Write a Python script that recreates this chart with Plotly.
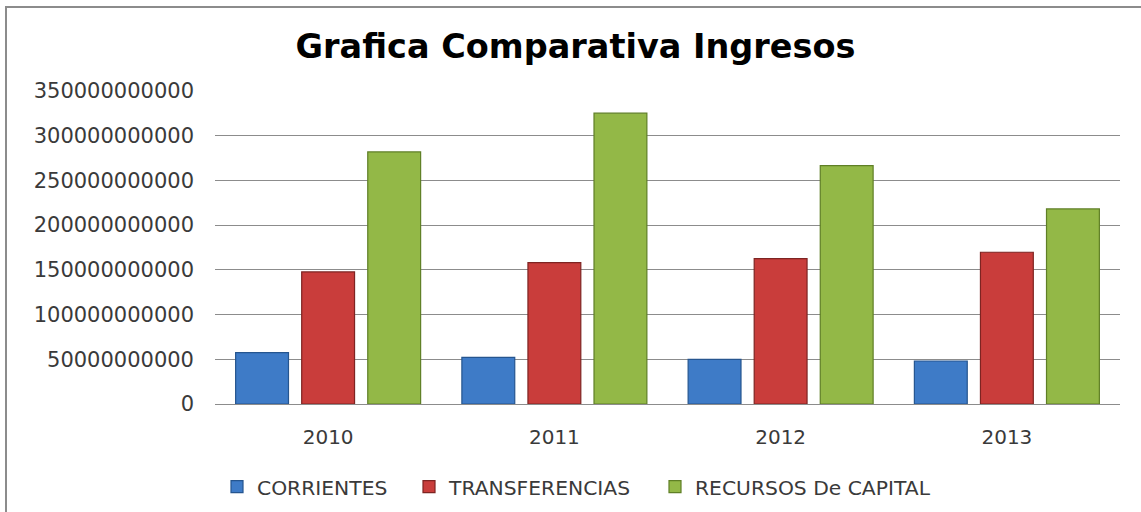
import plotly.graph_objects as go

years = ["2010", "2011", "2012", "2013"]
corrientes = [57.4e9, 52.2e9, 50.0e9, 48.1e9]
transferencias = [147.7e9, 158.0e9, 162.5e9, 169.7e9]
recursos_capital = [281.9e9, 325.2e9, 266.6e9, 218.1e9]
series_names = ["CORRIENTES", "TRANSFERENCIAS", "RECURSOS De CAPITAL"]
y_ticks = [0, 50e9, 100e9, 150e9, 200e9, 250e9, 300e9, 350e9]

fills = ["#3E7BC7", "#C93D3B", "#93B847"]
edges = ["#25558F", "#7E2422", "#5F7F26"]
legend_ids = ["legend", "legend2", "legend3"]
legend_sym_px = [237, 429, 675]   # symbol centres

PL, PR, PT, PB = 215, 1120, 91, 404
def px_x(p):
    return (p - PL) / (PR - PL)
def px_y(p):
    return (PB - p) / (PB - PT)

fig = go.Figure()
for name, vals, fc, ec, lg in zip(series_names, [corrientes, transferencias, recursos_capital], fills, edges, legend_ids):
    fig.add_trace(go.Bar(
        x=years, y=vals, name=name, legend=lg,
        marker=dict(color=fc, line=dict(color=ec, width=1.2)),
    ))

legend_font = dict(family="DejaVu Sans", size=20.3, color="#3a3a3a")
legends = {}
for lg, sx in zip(legend_ids, legend_sym_px):
    legends[lg] = dict(orientation="h", x=px_x(sx - 20), xanchor="left",
                       y=px_y(487), yanchor="middle", font=legend_font,
                       itemclick=False, bgcolor="rgba(0,0,0,0)")

fig.update_layout(
    width=1141, height=512, autosize=False,
    margin=dict(l=PL, r=1141 - PR, t=PT, b=512 - PB, autoexpand=False),
    paper_bgcolor="white", plot_bgcolor="white",
    barmode="group", bargap=0.124, bargroupgap=0.2,
    title=dict(text="<b>Grafica Comparativa Ingresos</b>",
               x=575.5 / 1141, xanchor="center", xref="container",
               y=1 - 46 / 512, yanchor="middle", yref="container",
               font=dict(family="DejaVu Sans", size=33.5, color="#000000")),
    font=dict(family="DejaVu Sans", size=20, color="#3a3a3a"),
    showlegend=True,
    **legends,
)
fig.update_xaxes(showgrid=False, showline=True, linecolor="#8c8c8c", linewidth=1,
                 ticks="", ticklabelstandoff=15,
                 tickfont=dict(family="DejaVu Sans", size=20, color="#3a3a3a"))
fig.update_yaxes(range=[0, 350e9], tickvals=y_ticks, tickformat="d",
                 showgrid=True, gridcolor="#8c8c8c", gridwidth=1,
                 zeroline=False, showline=False, ticks="", ticklabelstandoff=20,
                 tickfont=dict(family="DejaVu Sans", size=21, color="#3a3a3a"))

# chart-area border (only left and top edges visible in the reference)
fig.add_shape(type="rect", xref="paper", yref="paper",
              x0=px_x(6), x1=1.2, y0=-0.6, y1=px_y(7),
              line=dict(color="#8c8c8c", width=2), fillcolor="rgba(0,0,0,0)", layer="below")

fig.write_html("out.html", config={"displayModeBar": False},
               post_script="document.body.style.margin='0px';")
